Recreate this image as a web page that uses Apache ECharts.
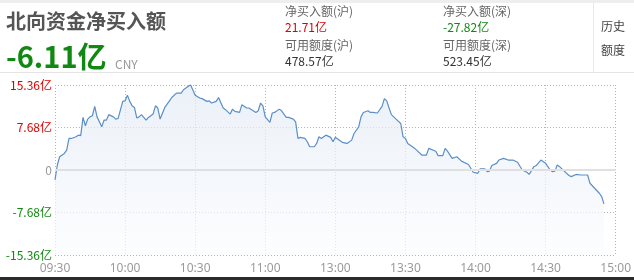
<!DOCTYPE html>
<html><head><meta charset="utf-8">
<script src="https://cdn.jsdelivr.net/npm/echarts@6/dist/echarts.min.js"></script>
<style>
html,body{margin:0;padding:0;background:#fff;}
#wrap{position:relative;width:634px;height:280px;overflow:hidden;font-family:"Noto Sans CJK SC","Noto Sans",sans-serif;}
#chart{position:absolute;left:0;top:0;width:634px;height:280px;}
.t{position:absolute;white-space:nowrap;line-height:1;}
</style></head>
<body>
<div id="wrap">
<div id="chart"></div>
<div style="position:absolute;left:0;top:0;width:634px;height:3px;background:#eeeeee"></div>
<div style="position:absolute;left:0;top:72px;width:634px;height:1px;background:#e4e4e4"></div>
<div style="position:absolute;left:593px;top:3px;width:1px;height:69px;background:#e8e8e8"></div>
<div style="position:absolute;left:0;top:277px;width:634px;height:3px;background:#2b2b2b"></div>
<div class="t" id="title" style="left:6px;top:11px;font-size:20px;font-weight:bold;color:#555"></div>
<div class="t" id="big" style="left:6px;top:41px;font-size:29px;font-weight:bold;color:#118811"></div>
<div class="t" style="left:115px;top:58px;font-size:12px;color:#999">CNY</div>
<div class="t" id="l1" style="left:285px;top:5px;font-size:12px;color:#666"></div>
<div class="t" id="v1" style="left:285px;top:21px;font-size:12px;color:#dd0000"></div>
<div class="t" id="l2" style="left:285px;top:39px;font-size:12px;color:#666"></div>
<div class="t" id="v2" style="left:285px;top:55px;font-size:12px;color:#333"></div>
<div class="t" id="l3" style="left:443px;top:5px;font-size:12px;color:#666"></div>
<div class="t" id="v3" style="left:443px;top:21px;font-size:12px;color:#118811"></div>
<div class="t" id="l4" style="left:443px;top:39px;font-size:12px;color:#666"></div>
<div class="t" id="v4" style="left:443px;top:55px;font-size:12px;color:#333"></div>
<div class="t" style="left:601px;top:20px;font-size:12px;color:#444">历史</div>
<div class="t" style="left:601px;top:44px;font-size:12px;color:#444">额度</div>
</div>
<script>
// header texts
var titleText = '北向资金净买入额';
var totalNet = '-6.11亿';
var infoLabels = ['净买入额(沪)','可用额度(沪)','净买入额(深)','可用额度(深)'];
var infoValues = ['21.71亿','478.57亿','-27.82亿','523.45亿'];

// trading minutes since 09:30 (11:30 and 13:00 share minute 120)
var minutes = [0,1,2,4,5,6,7,9,10,11,12,13,14,15,16,17,18,20,21,22,23,25,26,27,29,30,31,32,33,34,35,36,37,39,40,42,43,44,45,47,48,49,50,52,54,55,58,60,62,63,65,66,67,69,70,72,73,75,76,77,79,80,82,83,86,87,88,89,90,92,93,94,96,97,99,100,102,103,104,105,107,108,109,111,112,113,114,115,116,118,119,120,121,123,125,127,128,130,131,132,134,135,136,138,140,141,142,143,144,146,148,149,150,151,153,154,155,157,159,160,163,164,166,167,168,170,172,174,177,179,181,182,184,185,186,187,189,190,192,194,196,198,200,202,203,205,206,208,210,212,213,214,215,216,218,220,221,223,225,228,229,231,233,234,235];
// net buy, 亿
var netValues = [-1.8,0.9,2.4,3.0,3.6,5.7,5.7,6.0,6.3,6.2,9.5,8.0,9.2,9.6,9.8,11.5,9.6,7.8,9.0,9.0,10.0,9.6,9.2,9.3,12.4,12.5,13.5,12.4,11.6,11.3,9.4,9.6,10.0,9.0,9.5,10.1,11.6,11.2,9.2,11.3,11.9,12.5,13.1,13.9,13.9,14.5,15.4,13.5,13.0,12.9,12.4,12.5,12.1,12.4,13.1,11.2,10.9,10.1,11.0,10.6,10.4,11.8,11.2,11.2,10.4,10.7,12.1,11.6,9.6,8.6,10.3,10.4,11.0,10.7,9.5,9.5,9.2,8.7,5.7,5.9,5.7,5.1,4.2,4.2,4.8,6.0,5.7,6.0,6.3,5.9,5.1,5.9,5.6,5.0,4.8,5.4,6.6,7.8,9.6,10.4,10.7,10.4,10.4,10.3,11.5,12.9,12.5,11.2,10.0,9.2,8.4,6.0,5.7,4.8,4.2,3.9,3.5,2.7,2.7,3.9,3.4,2.6,2.6,3.9,3.4,2.1,2.4,1.6,1.0,-0.4,-0.6,0.2,0.2,-0.3,-0.2,0.8,1.2,1.8,2.1,1.8,1.8,1.4,0,-0.4,-0.8,0.6,0.8,1.8,1.2,0,-0.3,-0.2,0.9,0.6,-0.2,-1.0,-1.2,-0.8,-0.9,-0.9,-2.4,-3.3,-4.2,-4.8,-6.11];

var xTickLabels = ['09:30','10:00','10:30','11:00','13:00','13:30','14:00','14:30','15:00'];
var yTicks = [-15.36,-7.68,0,7.68,15.36];

document.getElementById('title').textContent = titleText;
document.getElementById('big').textContent = totalNet;
['l1','l2','l3','l4'].forEach(function(id,i){document.getElementById(id).textContent = infoLabels[i];});
['v1','v2','v3','v4'].forEach(function(id,i){document.getElementById(id).textContent = infoValues[i];});

var pts = minutes.map(function(m,i){return [m, netValues[i]];});

var chart = echarts.init(document.getElementById('chart'), null, {renderer:'canvas'});
var dotted = {type:[1,2], color:'#b4b4b4', width:1};
chart.setOption({
  animation:false,
  grid:{left:55, right:16, top:85, bottom:25, show:false},
  xAxis:{
    type:'value', min:0, max:240, interval:30,
    axisLine:{show:false}, axisTick:{show:false},
    splitLine:{show:true, lineStyle:dotted},
    axisLabel:{color:'#9a9a9a', fontSize:12, margin:8, fontFamily:'Noto Sans',
      formatter:function(v){return xTickLabels[Math.round(v/30)] || '';}}
  },
  yAxis:{
    type:'value', min:yTicks[0], max:yTicks[yTicks.length-1], interval:7.68,
    axisLine:{show:false}, axisTick:{show:false},
    splitLine:{show:true, lineStyle:dotted},
    axisLabel:{fontSize:12, margin:3, fontFamily:'Noto Sans CJK SC',
      formatter:function(v){
        var r = Math.round(v*100)/100;
        if (r === 0) return '{z|0}';
        return (r>0?'{p|':'{n|') + r.toFixed(2) + '亿}';
      },
      rich:{p:{color:'#dd0000',fontSize:12},n:{color:'#118811',fontSize:12},z:{color:'#999',fontSize:12}}
    }
  },
  series:[{
    type:'line', data:pts, showSymbol:false, smooth:false,
    lineStyle:{color:'#5b8fc7', width:1.2},
    areaStyle:{origin:'start', color:new echarts.graphic.LinearGradient(0,0,0,1,[{offset:0,color:'#e2eaf4'},{offset:1,color:'#fbfcfe'}])},
    markLine:{silent:true, symbol:'none', label:{show:false},
      lineStyle:{color:'#e0e0e0', type:'solid', width:2},
      data:[{yAxis:0}]}
  }]
});
</script>
</body></html>
